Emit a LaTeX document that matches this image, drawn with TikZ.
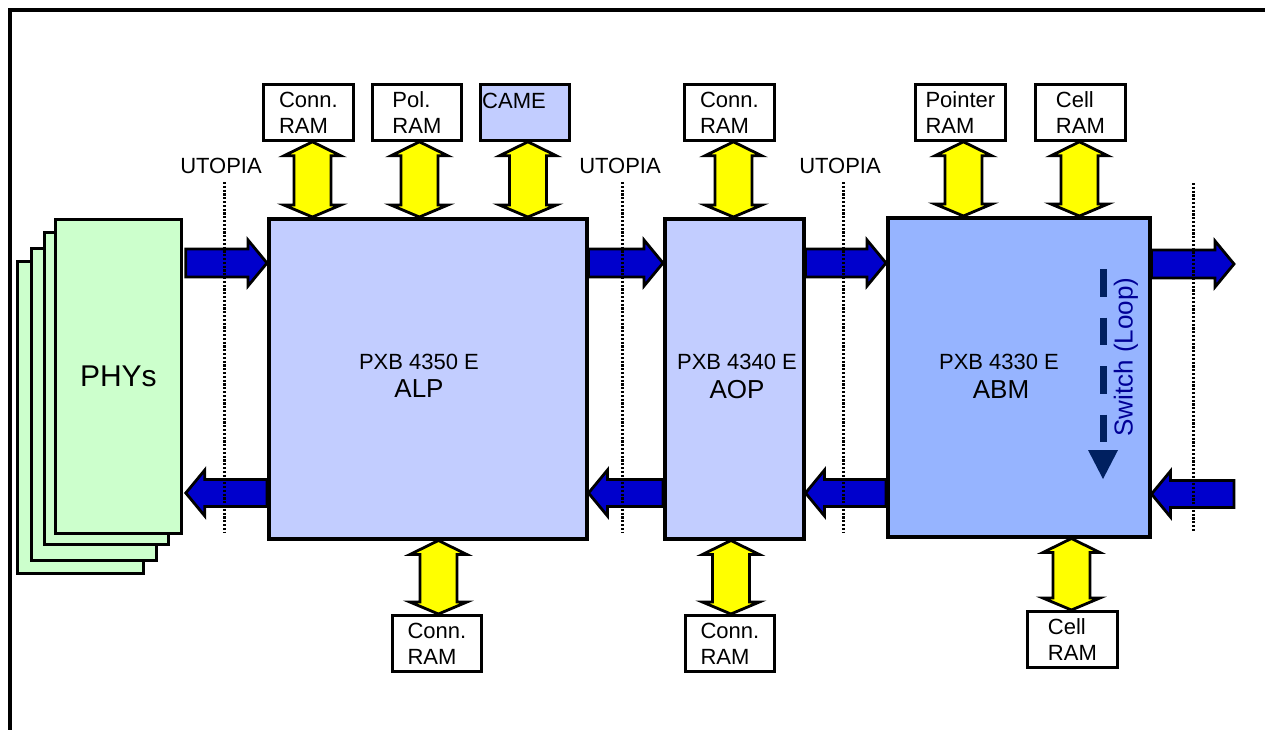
\documentclass[tikz,border=0pt]{standalone}
\usepackage{fontspec}
\setmainfont{Liberation Sans}
\usetikzlibrary{calc}
\definecolor{phyg}{RGB}{204,255,204}
\definecolor{chipb}{RGB}{194,205,255}
\definecolor{abmb}{RGB}{150,180,255}
\definecolor{busb}{RGB}{0,0,204}
\definecolor{navy}{RGB}{0,32,96}
\definecolor{swtxt}{RGB}{0,0,150}
\definecolor{yel}{RGB}{255,255,0}
\begin{document}
\begin{tikzpicture}[x=1pt,y=-1pt,
  chip/.style={draw, line width=3.5pt, anchor=north west, inner sep=0pt},
  phybox/.style={draw, line width=2.8pt, fill=phyg, anchor=north west, inner sep=0pt},
  rambox/.style={draw, line width=2.8pt, fill=white, anchor=north west, inner sep=0pt,
     minimum width=90pt, minimum height=56pt, align=left,
     font=\fontsize{22}{26}\selectfont},
  lbl/.style={inner sep=0pt, font=\fontsize{22}{26}\selectfont},
  big/.style={inner sep=0pt, font=\fontsize{26}{30}\selectfont},
  utop/.style={line width=3pt, dash pattern=on 2.2pt off 1.6pt},
  yarrow/.style={draw=black, line width=2.8pt, fill=yel, line join=miter},
  barrow/.style={draw=black, line width=2.8pt, fill=busb, line join=miter},
  dbl/.style={yarrow, to path={let \p1=(\tikztostart), \p2=(\tikztotarget) in
     (\x1,\y1) -- (\x1+28.5pt,\y1-14pt) -- (\x1+18.5pt,\y1-14pt) -- (\x1+18.5pt,\y2+12pt)
     -- (\x1+28.5pt,\y2+12pt) -- (\x1,\y2) -- (\x1-28.5pt,\y2+12pt) -- (\x1-18.5pt,\y2+12pt)
     -- (\x1-18.5pt,\y1-14pt) -- (\x1-28.5pt,\y1-14pt) -- cycle}},
  rarr/.style={barrow, to path={let \p1=(\tikztostart), \p2=(\tikztotarget) in
     (\x1,\y1+14pt) -- (\x2-19pt,\y1+14pt) -- (\x2-19pt,\y1+23pt) -- (\x2,\y1)
     -- (\x2-19pt,\y1-23pt) -- (\x2-19pt,\y1-14pt) -- (\x1,\y1-14pt) -- cycle}},
  larr/.style={barrow, to path={let \p1=(\tikztostart), \p2=(\tikztotarget) in
     (\x1,\y1+13.5pt) -- (\x2+19pt,\y1+13.5pt) -- (\x2+19pt,\y1+23pt) -- (\x2,\y1)
     -- (\x2+19pt,\y1-23pt) -- (\x2+19pt,\y1-13.5pt) -- (\x1,\y1-13.5pt) -- cycle}}
]
\useasboundingbox (0,0) rectangle (1265,729);
\fill[white] (0,0) rectangle (1265,729);
% frame
\draw[line width=4pt] (1266,10) -- (10,10) -- (10,730);

% UTOPIA dotted lines and labels
\coordinate (u1a) at (224,182); \coordinate (u1b) at (224,532);
\coordinate (u2a) at (622,182); \coordinate (u2b) at (622,532);
\coordinate (u3a) at (843,182); \coordinate (u3b) at (843,532);
\coordinate (u4a) at (1193,183); \coordinate (u4b) at (1193,532);
\node[lbl] (ut1) at (221,166) {UTOPIA};
\node[lbl] (ut2) at (620,166) {UTOPIA};
\node[lbl] (ut3) at (840,166) {UTOPIA};

% PHYs stack
\node[phybox, minimum width=126pt, minimum height=312pt] (phy4) at (16,260) {};
\node[phybox, minimum width=125pt, minimum height=312pt] (phy3) at (30,247) {};
\node[phybox, minimum width=124pt, minimum height=312pt] (phy2) at (43,231) {};
\node[phybox, minimum width=126pt, minimum height=314pt] (phy1) at (54,218) {};
\node[inner sep=0pt, font=\fontsize{30}{34}\selectfont] (phyt) at (phy1.center) {PHYs};

% chips
\node[chip, fill=chipb, minimum width=318pt, minimum height=320pt] (alp) at (267,217) {};
\node[chip, fill=chipb, minimum width=139pt, minimum height=320pt] (aop) at (663,217) {};
\node[chip, fill=abmb, minimum width=262pt, minimum height=319pt] (abm) at (886,216) {};
\node[lbl, anchor=base] (alpa) at (419,369) {PXB 4350 E};
\node[big, anchor=base] (alpb) at (419,397) {ALP};
\node[lbl, anchor=base] (aopa) at (737,369) {PXB 4340 E};
\node[big, anchor=base] (aopb) at (737,398) {AOP};
\node[lbl, anchor=base] (abma) at (999,369) {PXB 4330 E};
\node[big, anchor=base] (abmb) at (1001,398) {ABM};

% RAM boxes
\node[rambox] (ramA) at (262,83) {Conn.\\RAM};
\node[rambox, minimum width=89pt] (ramB) at (371,83) {Pol.\\RAM};
\node[rambox, minimum width=89pt, fill=chipb] (came) at (479,83) {};
\node[lbl, anchor=base west] (camet) at (482,108) {CAME};
\node[rambox] (ramC) at (683,83) {Conn.\\RAM};
\node[rambox] (ramD) at (914,83) {Pointer\\RAM};
\node[rambox] (ramE) at (1034,83) {Cell\\RAM};
\node[rambox, minimum width=89pt] (ramF) at (391,614) {Conn.\\RAM};
\node[rambox, minimum width=89pt] (ramG) at (684,614) {Conn.\\RAM};
\node[rambox] (ramH) at (1026,610) {Cell\\RAM};

% yellow double arrows
\draw[dbl] ([xshift=4pt]ramA.south) to ([xshift=4pt]ramA.south |- alp.north);
\draw[dbl] ([xshift=2.5pt]ramB.south) to ([xshift=2.5pt]ramB.south |- alp.north);
\draw[dbl] ([xshift=3pt]came.south) to ([xshift=3pt]came.south |- alp.north);
\draw[dbl] ([xshift=4pt]ramC.south) to ([xshift=4pt]ramC.south |- aop.north);
\draw[dbl] ([xshift=3pt]ramD.south) to ([xshift=3pt]ramD.south |- abm.north);
\draw[dbl] ([xshift=-1pt]ramE.south) to ([xshift=-1pt]ramE.south |- abm.north);
\draw[dbl] ([xshift=1.5pt]ramF.north |- alp.south) to ([xshift=1.5pt]ramF.north);
\draw[dbl] ([xshift=1pt]ramG.north |- aop.south) to ([xshift=1pt]ramG.north);
\draw[dbl] ([xshift=-1pt]ramH.north |- abm.south) to ([xshift=-1pt]ramH.north);

% blue bus arrows
\coordinate (upY) at (0,263);
\coordinate (dnY) at (0,493);
\coordinate (outR) at (1234,264);
\coordinate (inR) at (1234,494);
\draw[rarr] ($(phy1.east |- upY)+(3,0)$) to (alp.west |- upY);
\draw[larr] (alp.west |- dnY) to ($(phy1.east |- dnY)+(3,0)$);
\draw[rarr] (alp.east |- upY) to (aop.west |- upY);
\draw[larr] (aop.west |- dnY) to (alp.east |- dnY);
\draw[rarr] (aop.east |- upY) to (abm.west |- upY);
\draw[larr] (abm.west |- dnY) to (aop.east |- dnY);
\draw[rarr] (abm.east |- outR) to (outR);
\draw[larr] (inR) to (abm.east |- inR);

% dotted UTOPIA lines
\draw[utop] (u1a) -- (u1b);
\draw[utop] (u2a) -- (u2b);
\draw[utop] (u3a) -- (u3b);
\draw[utop] (u4a) -- (u4b);

% switch loop
\coordinate (swa) at (1103,269);
\coordinate (swb) at (1103,442);
\draw[navy, line width=7pt, dash pattern=on 27.5pt off 21pt] (swa) -- (swb);
\fill[navy] (1088,450) -- (1118,450) -- (1103,479) -- cycle;
\node[inner sep=0pt, rotate=90, text=swtxt, font=\fontsize{26}{30}\selectfont] (swt) at (1126,357) {Switch (Loop)};
\end{tikzpicture}
\end{document}
